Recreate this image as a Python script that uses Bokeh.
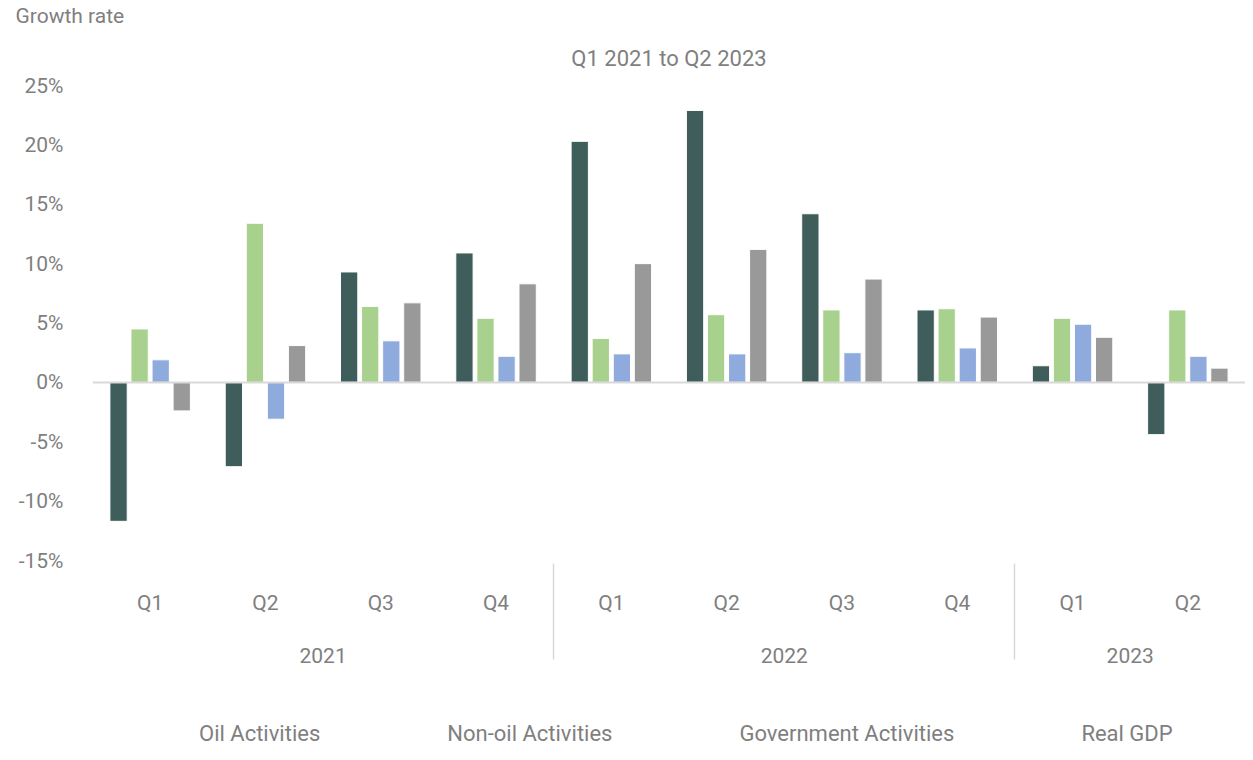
from bokeh.plotting import figure
from bokeh.layouts import column
from bokeh.models import (FactorRange, ColumnDataSource, FixedTicker, Legend,
                          LegendItem, Span, Range1d, Title)
from bokeh.transform import dodge
from bokeh.embed import file_html
from bokeh.resources import INLINE

# ---------------- data ----------------
years = ["2021", "2021", "2021", "2021", "2022", "2022", "2022", "2022", "2023", "2023"]
quarters = ["Q1", "Q2", "Q3", "Q4", "Q1", "Q2", "Q3", "Q4", "Q1", "Q2"]
oil = [-11.7, -7.1, 9.3, 10.9, 20.3, 22.9, 14.2, 6.1, 1.4, -4.4]
non_oil = [4.5, 13.4, 6.4, 5.4, 3.7, 5.7, 6.1, 6.2, 5.4, 6.1]
government = [1.9, -3.1, 3.5, 2.2, 2.4, 2.4, 2.5, 2.9, 4.9, 2.2]
real_gdp = [-2.4, 3.1, 6.7, 8.3, 10.0, 11.2, 8.7, 5.5, 3.8, 1.2]
series_names = ["Oil Activities", "Non-oil Activities", "Government Activities", "Real GDP"]
y_ticks = [-15, -10, -5, 0, 5, 10, 15, 20, 25]
title_text = "Q1 2021 to Q2 2023"
y_title = "Growth rate"

# ---------------- style ----------------
FONT = "Roboto"
TXT = "#7F7F7F"
SEP = "#D9D9D9"
colors = ["#3F5D5B", "#A9D18E", "#8FAADC", "#999999"]
offsets = [-0.274, -0.0915, 0.0915, 0.274]
bar_w = 0.15
W = 1245

factors = list(zip(years, quarters))
src = ColumnDataSource(dict(x=factors, oil=oil, non_oil=non_oil,
                            government=government, real_gdp=real_gdp))
cols = ["oil", "non_oil", "government", "real_gdp"]

x_range = FactorRange(*factors, factor_padding=0, group_padding=0, range_padding=0)

p = figure(width=W, height=690, x_range=x_range, y_range=Range1d(-15, 25),
           output_backend="svg", toolbar_location=None,
           min_border_left=92, min_border_right=0, min_border_top=85,
           min_border_bottom=130)
p.title.text = ""
p.title.visible = False
p.outline_line_color = None
p.xgrid.visible = False
p.ygrid.visible = False

for col, off, c in zip(cols, offsets, colors):
    p.vbar(x=dodge("x", off, range=p.x_range), top=col, bottom=0, width=bar_w,
           source=src, fill_color=c, line_color="white", line_width=1)

p.add_layout(Span(location=0, dimension="width", line_color=SEP, line_width=2))

# titles: the first added sits nearest the plot, the second on top
p.add_layout(Title(text=title_text, align="center", vertical_align="middle",
                   standoff=28, text_font=FONT, text_font_size="22px",
                   text_font_style="normal", text_color=TXT), "above")
p.add_layout(Title(text=y_title, align="left", offset=-77, vertical_align="middle",
                   standoff=3, text_font=FONT, text_font_size="21px",
                   text_font_style="normal", text_color=TXT), "above")

# y axis
ya = p.yaxis[0]
ya.ticker = FixedTicker(ticks=y_ticks)
ya.major_label_overrides = {t: f"{t}%" for t in y_ticks}
ya.axis_line_color = None
ya.major_tick_line_color = None
ya.minor_tick_line_color = None
ya.major_tick_out = 0
ya.minor_tick_out = 0
ya.major_label_standoff = 29
ya.major_label_text_font = FONT
ya.major_label_text_font_size = "21px"
ya.major_label_text_color = TXT

# x axis (two-level categories with year separators)
xa = p.xaxis[0]
xa.axis_line_color = None
xa.major_tick_line_color = None
xa.minor_tick_line_color = None
xa.major_tick_out = 0
xa.major_label_standoff = 30
xa.major_label_text_font = FONT
xa.major_label_text_font_size = "21px"
xa.major_label_text_color = TXT
xa.group_text_font = FONT
xa.group_text_font_size = "21px"
xa.group_text_font_style = "normal"
xa.group_text_color = TXT
xa.separator_line_color = SEP
xa.separator_line_width = 1.5

# ---------------- legend strip below the chart ----------------
leg_fig = figure(width=W, height=58, x_range=Range1d(0, 1), y_range=Range1d(0, 1),
                 output_backend="svg", toolbar_location=None,
                 min_border_left=92, min_border_right=0, min_border_top=0,
                 min_border_bottom=0)
leg_fig.title.text = ""
leg_fig.title.visible = False
leg_fig.axis.visible = False
leg_fig.grid.visible = False
leg_fig.outline_line_color = None
swatches = []
for c in colors:
    swatches.append(leg_fig.vbar(x=[], top=[], width=0.1, fill_color=c,
                                 line_color="white", line_width=1))

legend = Legend(items=[LegendItem(label=n, renderers=[r]) for n, r in zip(series_names, swatches)],
                orientation="horizontal", location=(84, 2),
                glyph_width=15, glyph_height=15, label_standoff=8, spacing=104,
                label_text_font=FONT, label_text_font_size="22px", label_text_color=TXT,
                border_line_color=None, background_fill_alpha=0, padding=0, margin=0)
leg_fig.add_layout(legend)

layout = column(p, leg_fig, spacing=0)
open("out.html", "w").write(file_html(layout, INLINE))
